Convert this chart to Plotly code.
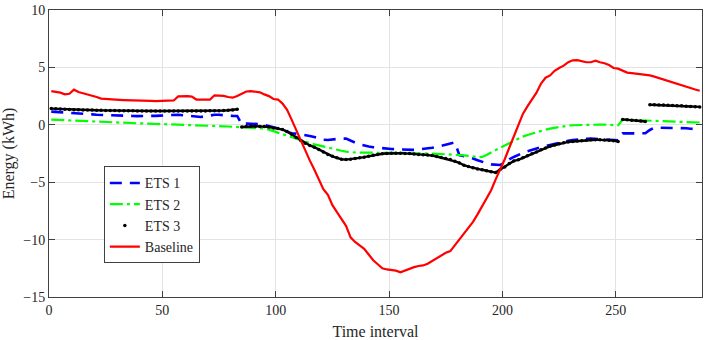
import plotly.graph_objects as go

time_interval = list(range(1, 288, 2))

ets1 = [
    1.15, 1.13, 1.11, 1.09, 1.07, 1.05, 1.03, 0.99, 0.95, 0.91,
    0.87, 0.85, 0.84, 0.83, 0.82, 0.81, 0.8, 0.79, 0.77, 0.76,
    0.75, 0.75, 0.77, 0.78, 0.8, 0.83, 0.86, 0.9, 0.88, 0.83,
    0.78, 0.75, 0.71, 0.68, 0.75, 0.82, 0.87, 0.87, 0.82, 0.79,
    0.78, 0.77, 0.05, 0.1, 0.1, 0.1, 0.06, -0.02, -0.11, -0.19,
    -0.3, -0.4, -0.6, -0.73, -0.77, -0.82, -0.88, -0.97, -1.06, -1.18,
    -1.3, -1.32, -1.26, -1.2, -1.2, -1.2, -1.4, -1.55, -1.69, -1.8,
    -1.89, -1.95, -2.0, -2.04, -2.08, -2.11, -2.13, -2.15, -2.17, -2.19,
    -2.18, -2.15, -2.12, -2.07, -2.0, -1.93, -1.83, -1.74, -1.64, -1.54,
    -2.65, -2.73, -2.81, -2.93, -3.08, -3.23, -3.35, -3.45, -3.48, -3.5,
    -3.3, -3.0, -2.8, -2.6, -2.45, -2.31, -2.17, -2.05, -1.95, -1.85,
    -1.75, -1.66, -1.57, -1.48, -1.4, -1.33, -1.28, -1.24, -1.21, -1.2,
    -1.22, -1.23, -1.25, -1.28, -1.32, -1.35, -0.75, -0.76, -0.77, -0.78,
    -0.76, -0.74, -0.45, -0.25, -0.25, -0.25, -0.25, -0.25, -0.26, -0.28,
    -0.3, -0.34, -0.38, -0.41,
]

ets2 = [
    0.45, 0.43, 0.41, 0.39, 0.37, 0.35, 0.33, 0.31, 0.29, 0.28,
    0.26, 0.24, 0.23, 0.21, 0.2, 0.18, 0.17, 0.16, 0.14, 0.13,
    0.12, 0.11, 0.1, 0.09, 0.08, 0.07, 0.06, 0.05, 0.03, 0.02,
    0.01, 0.0, -0.02, -0.04, -0.06, -0.07, -0.09, -0.11, -0.13, -0.15,
    -0.17, -0.18, -0.2, -0.22, -0.25, -0.28, -0.31, -0.33, -0.42, -0.55,
    -0.68, -0.83, -0.98, -1.13, -1.26, -1.38, -1.49, -1.6, -1.7, -1.8,
    -1.91, -2.02, -2.1, -2.18, -2.26, -2.33, -2.4, -2.41, -2.42, -2.43,
    -2.44, -2.45, -2.45, -2.45, -2.45, -2.45, -2.45, -2.45, -2.45, -2.45,
    -2.46, -2.47, -2.48, -2.5, -2.51, -2.53, -2.54, -2.56, -2.57, -2.6,
    -2.63, -2.66, -2.69, -2.75, -2.82, -2.8, -2.63, -2.45, -2.2, -2.0,
    -1.83, -1.6, -1.4, -1.2, -1.03, -0.89, -0.76, -0.65, -0.52, -0.42,
    -0.33, -0.25, -0.18, -0.11, -0.07, -0.04, -0.02, 0.0, 0.02, 0.04,
    0.03, 0.02, 0.01, -0.01, -0.03, -0.04, 0.45, 0.44, 0.43, 0.42,
    0.41, 0.4, 0.39, 0.37, 0.35, 0.33, 0.31, 0.29, 0.27, 0.25,
    0.24, 0.22, 0.21, 0.2,
]

ets3 = [
    1.41, 1.39, 1.37, 1.35, 1.33, 1.32, 1.31, 1.3, 1.29, 1.28,
    1.27, 1.26, 1.25, 1.25, 1.24, 1.23, 1.23, 1.22, 1.22, 1.21,
    1.21, 1.2, 1.2, 1.2, 1.2, 1.2, 1.2, 1.2, 1.2, 1.2,
    1.2, 1.2, 1.2, 1.21, 1.21, 1.22, 1.23, 1.23, 1.24, 1.27,
    1.3, 1.35, -0.19, -0.15, -0.13, -0.13, -0.14, -0.15, -0.2, -0.27,
    -0.32, -0.42, -0.58, -0.82, -1.1, -1.37, -1.6, -1.8, -1.95, -2.15,
    -2.36, -2.58, -2.75, -2.88, -3.0, -3.03, -3.0, -2.93, -2.88, -2.82,
    -2.73, -2.65, -2.58, -2.52, -2.5, -2.48, -2.48, -2.48, -2.49, -2.5,
    -2.55, -2.58, -2.6, -2.63, -2.68, -2.76, -2.85, -2.94, -3.03, -3.18,
    -3.32, -3.52, -3.64, -3.75, -3.84, -3.92, -4.0, -4.1, -4.16, -3.9,
    -3.67, -3.38, -3.15, -3.05, -2.87, -2.7, -2.53, -2.36, -2.18, -2.03,
    -1.87, -1.76, -1.65, -1.57, -1.49, -1.46, -1.42, -1.39, -1.35, -1.31,
    -1.3, -1.31, -1.32, -1.34, -1.38, -1.45, 0.47, 0.44, 0.4, 0.37,
    0.33, 0.29, 1.75, 1.74, 1.73, 1.72, 1.71, 1.69, 1.67, 1.65,
    1.62, 1.6, 1.58, 1.56,
]

baseline = [
    2.94, 2.87, 2.8, 2.65, 2.7, 3.06, 2.85, 2.75, 2.65, 2.55,
    2.42, 2.28, 2.24, 2.2, 2.18, 2.17, 2.15, 2.13, 2.1, 2.1,
    2.1, 2.09, 2.08, 2.07, 2.07, 2.07, 2.1, 2.12, 2.48, 2.5,
    2.5, 2.45, 2.2, 2.2, 2.22, 2.2, 2.57, 2.56, 2.52, 2.42,
    2.36, 2.5, 2.7, 2.9, 2.94, 2.9, 2.83, 2.65, 2.5, 2.25,
    2.2, 1.85, 1.3, 0.45, -0.45, -1.4, -2.3, -3.1, -3.9, -4.7,
    -5.6, -6.1, -7.0, -7.6, -8.2, -8.8, -9.8, -10.2, -10.5, -10.8,
    -11.3, -11.8, -12.15, -12.5, -12.6, -12.65, -12.7, -12.85, -12.7, -12.5,
    -12.4, -12.3, -12.25, -12.1, -11.87, -11.6, -11.35, -11.15, -11.0, -10.5,
    -9.9, -9.4, -8.95, -8.45, -7.8, -7.1, -6.4, -5.7, -4.75, -3.9,
    -3.0, -2.0, -1.0, 0.1, 0.95, 1.6, 2.2, 2.8, 3.6, 4.1,
    4.3, 4.7, 4.95, 5.15, 5.46, 5.62, 5.63, 5.55, 5.45, 5.45,
    5.58, 5.45, 5.36, 5.2, 4.95, 4.89, 4.7, 4.55, 4.5, 4.45,
    4.4, 4.37, 4.3, 4.2, 4.07, 3.95, 3.82, 3.7, 3.58, 3.47,
    3.33, 3.2, 3.07, 2.97,
]

x_ticks = [0, 50, 100, 150, 200, 250]
y_ticks = [-15, -10, -5, 0, 5, 10]

FONT = "Times New Roman, Liberation Serif, serif"

# split ETS 3 into segments at its jumps for the underlying thick line
seg_x, seg_y = [], []
for i, (t, v) in enumerate(zip(time_interval, ets3)):
    if i > 0 and abs(v - ets3[i - 1]) > 1.0:
        seg_x.append(None)
        seg_y.append(None)
    seg_x.append(t)
    seg_y.append(v)

fig = go.Figure()
fig.add_trace(go.Scatter(x=time_interval, y=ets1, mode="lines", name="ETS 1",
                         line=dict(color="#0000ff", width=2.6, dash="12px,8px")))
fig.add_trace(go.Scatter(x=time_interval, y=ets2, mode="lines", name="ETS 2",
                         line=dict(color="#00ff00", width=2.2, dash="13px,4px,3px,4px")))
fig.add_trace(go.Scatter(x=seg_x, y=seg_y, mode="lines", showlegend=False,
                         hoverinfo="skip", connectgaps=False,
                         line=dict(color="#000000", width=2.4)))
fig.add_trace(go.Scatter(x=time_interval, y=ets3, mode="markers", name="ETS 3",
                         marker=dict(color="#000000", size=3.5)))
fig.add_trace(go.Scatter(x=time_interval, y=baseline, mode="lines", name="Baseline",
                         line=dict(color="#ff0000", width=2.2)))

axis_common = dict(
    showline=True, linecolor="#404040", linewidth=1, mirror="ticks",
    ticks="inside", ticklen=6, tickcolor="#404040",
    showgrid=True, gridcolor="#e3e3e3", gridwidth=1,
    zeroline=False, automargin=False,
    tickfont=dict(family=FONT, size=14, color="#262626"),
)

fig.update_layout(
    width=706, height=340,
    margin=dict(l=49, r=4, t=10, b=43),
    paper_bgcolor="white", plot_bgcolor="white",
    font=dict(family=FONT, color="#262626"),
    xaxis=dict(range=[0, 288], tickvals=x_ticks,
               title=dict(text="Time interval", font=dict(family=FONT, size=16)),
               **axis_common),
    yaxis=dict(range=[-15, 10], tickvals=y_ticks,
               title=dict(text="Energy (kWh)", font=dict(family=FONT, size=16)),
               **axis_common),
    legend=dict(x=0.084, y=0.455, xanchor="left", yanchor="top",
                bgcolor="white", bordercolor="#404040", borderwidth=1,
                font=dict(family=FONT, size=14, color="#262626"),
                tracegroupgap=0),
    showlegend=True,
)

fig.write_html("out.html", config={"displayModeBar": False},
               post_script="document.body.style.margin='0';document.body.style.padding='0';")
